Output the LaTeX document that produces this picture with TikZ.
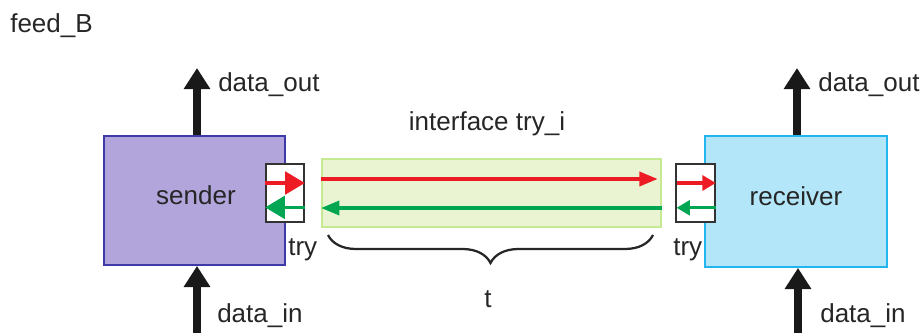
\documentclass[tikz,border=0pt]{standalone}
\usepackage{fontspec}
\setmainfont{Liberation Sans}
\usetikzlibrary{arrows.meta,decorations.pathreplacing}

\definecolor{rojo}{RGB}{237,28,36}
\definecolor{verde}{RGB}{0,166,81}
\definecolor{lila}{RGB}{177,165,219}
\definecolor{lilaborde}{RGB}{62,58,168}
\definecolor{celeste}{RGB}{178,230,248}
\definecolor{celesteborde}{RGB}{35,182,238}
\definecolor{banda}{RGB}{235,244,210}
\definecolor{bandaborde}{RGB}{198,234,146}

\begin{document}
\begin{tikzpicture}[x=0.025cm, y=-0.025cm, >=stealth,
    texto/.style={font=\fontsize{18.5}{22}\selectfont, inner sep=0pt, text=black!85},
    puerto/.style={rectangle, draw=black!80, line width=1.2pt, fill=white, minimum width=0.95cm, minimum height=1.45cm},
    gruesa/.style={line width=6.2pt, black!90, -{Triangle[length=15pt,width=18pt]}},
    flecha/.style={line width=2.4pt}]
\useasboundingbox (0,0) rectangle (922,333);

% Titulo
\node (titulo) [texto, anchor=base west] at (10,33) {feed\_B};

% Bloques principales
\node (sender) [rectangle, draw=lilaborde, line width=1.3pt, fill=lila, minimum width=4.525cm, minimum height=3.225cm] at (194.5,200.5) {};
\node [texto, anchor=base] at (196,205) {sender};
\node (receiver) [rectangle, draw=celesteborde, line width=1.3pt, fill=celeste, minimum width=4.55cm, minimum height=3.275cm] at (796,201.5) {};
\node [texto, anchor=base] at (796,206) {receiver};

% Interfaz entre ambos
\node (banda) [rectangle, draw=bandaborde, line width=1.2pt, fill=banda, minimum width=8.475cm, minimum height=1.7cm] at (491.5,193) {};
\node (interfaz) [texto, anchor=base] at (487,131) {interface try\_i};
\draw [flecha, rojo, -{Triangle[length=13pt,width=10pt]}] ([yshift=0.35cm]banda.west) -- ([yshift=0.35cm,xshift=-3pt]banda.east);
\draw [flecha, verde, -{Triangle[length=13pt,width=10pt]}] ([yshift=-0.375cm]banda.east) -- ([yshift=-0.375cm]banda.west);

% Puertos try
\node (psender) [puerto] at (285,193) {};
\draw [flecha, rojo, -{Triangle[length=14pt,width=16pt]}] ([yshift=0.25cm]psender.west) -- ([yshift=0.25cm]psender.east);
\draw [flecha, verde, -{Triangle[length=14pt,width=16pt]}] ([yshift=-0.36cm]psender.east) -- ([yshift=-0.36cm]psender.west);
\node [texto, anchor=base west] at (288,256) {try};

\node (preceiver) [puerto, minimum width=0.975cm] at (695.5,193) {};
\draw [flecha, rojo, -{Triangle[length=9.5pt,width=10.5pt]}] ([yshift=0.25cm,xshift=1pt]preceiver.west) -- ([yshift=0.25cm]preceiver.east);
\draw [flecha, verde, -{Triangle[length=9.5pt,width=10.5pt]}] ([yshift=-0.37cm]preceiver.east) -- ([yshift=-0.37cm,xshift=1pt]preceiver.west);
\node [texto, anchor=base west] at (673,256) {try};

% Llave bajo la interfaz
\coordinate (llavei) at (328,235);
\coordinate (llaved) at (653,235);
\draw [line width=1.6pt, black!85, decorate, decoration={brace, mirror, amplitude=0.7cm}] (llavei) -- (llaved);
\node (tiempo) [texto, anchor=base] at (488,308) {t};

% Entradas y salidas de datos
\coordinate (souts) at (197,68);
\coordinate (sins) at (197,333);
\coordinate (soutr) at (797,68);
\coordinate (sinr) at (798,333);
\draw [gruesa] (sender.north -| souts) -- (souts);
\draw [gruesa] (sins) -- (sins |- sender.south);
\draw [gruesa] (receiver.north -| soutr) -- (soutr);
\draw [gruesa] (sinr) -- (sinr |- receiver.south);
\node [texto, anchor=base west] at (218,92) {data\_out};
\node [texto, anchor=base west] at (818,92) {data\_out};
\node [texto, anchor=base west] at (217,323) {data\_in};
\node [texto, anchor=base west] at (820,323) {data\_in};
\end{tikzpicture}
\end{document}
